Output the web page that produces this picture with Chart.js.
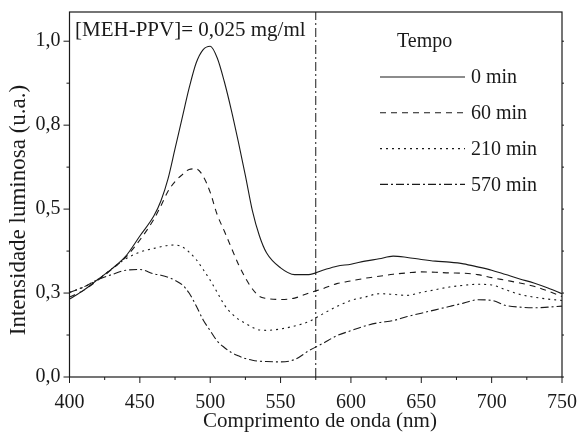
<!DOCTYPE html>
<html>
<head>
<meta charset="utf-8">
<script src="https://cdn.jsdelivr.net/npm/chart.js@4"></script>
<style>
  html, body { margin: 0; padding: 0; background: #fff; }
  #wrap { width: 580px; height: 434px; }
</style>
</head>
<body>
<div id="wrap"><canvas id="spectra"></canvas></div>
<script>
const wavelength = [400, 410, 420, 430, 440, 450, 460, 465, 470, 475, 480, 485, 490, 495, 500, 505, 510, 515, 520, 525, 530, 535, 540, 550, 560, 570, 580, 590, 600, 610, 620, 630, 640, 650, 660, 670, 680, 690, 700, 710, 720, 730, 740, 750];
const int0 = [0.232, 0.258, 0.29, 0.322, 0.36, 0.42, 0.48, 0.525, 0.59, 0.68, 0.77, 0.86, 0.935, 0.975, 0.985, 0.95, 0.88, 0.795, 0.70, 0.60, 0.495, 0.42, 0.37, 0.325, 0.305, 0.305, 0.318, 0.33, 0.336, 0.345, 0.352, 0.36, 0.356, 0.35, 0.345, 0.342, 0.337, 0.328, 0.318, 0.305, 0.292, 0.28, 0.265, 0.248];
const int60 = [0.238, 0.258, 0.288, 0.32, 0.357, 0.408, 0.47, 0.51, 0.553, 0.582, 0.602, 0.618, 0.62, 0.598, 0.55, 0.483, 0.435, 0.385, 0.336, 0.295, 0.262, 0.24, 0.234, 0.231, 0.235, 0.25, 0.263, 0.278, 0.286, 0.294, 0.30, 0.306, 0.31, 0.313, 0.312, 0.31, 0.309, 0.305, 0.296, 0.288, 0.28, 0.27, 0.256, 0.24];
const int210 = [0.252, 0.268, 0.29, 0.322, 0.352, 0.372, 0.383, 0.388, 0.392, 0.393, 0.388, 0.372, 0.35, 0.32, 0.288, 0.252, 0.215, 0.19, 0.172, 0.16, 0.148, 0.14, 0.139, 0.143, 0.152, 0.165, 0.188, 0.21, 0.228, 0.238, 0.248, 0.246, 0.243, 0.252, 0.26, 0.268, 0.273, 0.276, 0.274, 0.26, 0.246, 0.238, 0.232, 0.228];
const int570 = [0.252, 0.268, 0.29, 0.305, 0.318, 0.32, 0.307, 0.303, 0.297, 0.288, 0.275, 0.25, 0.212, 0.17, 0.138, 0.107, 0.088, 0.073, 0.063, 0.055, 0.05, 0.047, 0.046, 0.045, 0.052, 0.078, 0.1, 0.123, 0.138, 0.152, 0.162, 0.168, 0.18, 0.19, 0.2, 0.21, 0.22, 0.23, 0.228, 0.213, 0.208, 0.206, 0.208, 0.211];

const seriesNames = ["0 min", "60 min", "210 min", "570 min"];
const seriesDash = [[], [6, 5], [2, 4], [8, 3, 2, 3]];
const markerWavelength = 575;

const xTickValues = [400, 450, 500, 550, 600, 650, 700, 750];
const xTickLabels = ["400", "450", "500", "550", "600", "650", "700", "750"];
const yTickValues = [0, 0.25, 0.5, 0.75, 1.0];
const yTickLabels = ["0,0", "0,3", "0,5", "0,8", "1,0"];

const serif = "'Liberation Serif', 'Times New Roman', serif";
const ink = "#1a1a1a";

function toPoints(values) {
  return values.map((v, i) => ({ x: wavelength[i], y: v }));
}

const seriesData = [int0, int60, int210, int570];
const datasets = seriesData.map((vals, i) => ({
  label: seriesNames[i],
  data: toPoints(vals),
  borderColor: ink,
  borderWidth: 1.1,
  borderDash: seriesDash[i],
  pointRadius: 0,
  fill: false,
  cubicInterpolationMode: "monotone",
}));

// vertical dash-dot line at 575 nm
datasets.push({
  label: "marker",
  data: [{ x: markerWavelength, y: 0 }, { x: markerWavelength, y: 1.087 }],
  borderColor: ink,
  borderWidth: 1,
  borderDash: [9, 3, 2, 3],
  pointRadius: 0,
  fill: false,
});

function line(ctx, x1, y1, x2, y2) {
  ctx.beginPath();
  ctx.moveTo(x1, y1);
  ctx.lineTo(x2, y2);
  ctx.stroke();
}

const framePlugin = {
  id: "frame",
  afterDraw(chart) {
    const { ctx, chartArea: a } = chart;
    const xs = chart.scales.x;
    const ys = chart.scales.y;
    ctx.save();
    ctx.strokeStyle = ink;
    ctx.setLineDash([]);
    ctx.lineWidth = 1.2;
    ctx.strokeRect(a.left, a.top, a.right - a.left, a.bottom - a.top);

    ctx.lineWidth = 1;
    xs.ticks.forEach(t => {
      const px = xs.getPixelForValue(t.value);
      const len = xTickValues.includes(t.value) ? 6 : 3;
      line(ctx, px, a.bottom, px, a.bottom + len);
    });
    ys.ticks.forEach(t => {
      const py = ys.getPixelForValue(t.value);
      const len = yTickValues.includes(t.value) ? 6 : 3;
      line(ctx, a.left - len, py, a.left, py);
      line(ctx, a.right, py, a.right + 2, py);
    });

    ctx.fillStyle = ink;
    ctx.textBaseline = "middle";
    ctx.textAlign = "left";

    // concentration note
    ctx.font = "21px " + serif;
    ctx.fillText("[MEH-PPV]= 0,025 mg/ml", 75, 30);

    // legend
    ctx.font = "20px " + serif;
    ctx.fillText("Tempo", 397, 42);
    seriesNames.forEach((name, i) => {
      const yy = 77 + i * 35.8;
      ctx.setLineDash(seriesDash[i]);
      ctx.lineWidth = 1.1;
      line(ctx, 380, yy, 465, yy);
      ctx.setLineDash([]);
      ctx.fillText(name, 471, yy + 1);
    });

    // axis titles
    ctx.textAlign = "center";
    ctx.font = "21px " + serif;
    ctx.fillText("Comprimento de onda (nm)", 320, 421);
    ctx.font = "23px " + serif;
    ctx.translate(19, 210);
    ctx.rotate(-Math.PI / 2);
    ctx.fillText("Intensidade luminosa (u.a.)", 0, 0);
    ctx.restore();
  },
};

new Chart(document.getElementById("spectra"), {
  type: "line",
  data: { datasets: datasets },
  options: {
    responsive: true,
    maintainAspectRatio: false,
    animation: false,
    layout: { padding: { top: 12, right: 18, left: 0, bottom: 0 } },
    plugins: {
      legend: { display: false },
      tooltip: { enabled: false },
    },
    scales: {
      x: {
        type: "linear",
        min: 400,
        max: 750,
        afterBuildTicks: scale => {
          const t = [];
          for (let v = 400; v <= 750; v += 25) t.push({ value: v });
          scale.ticks = t;
        },
        afterFit: scale => {
          scale.height = 57;
          scale.paddingLeft = 0;
          scale.paddingRight = 0;
        },
        grid: { display: false, drawTicks: false },
        border: { display: false },
        ticks: {
          autoSkip: false,
          maxRotation: 0,
          padding: 14,
          color: ink,
          font: { family: serif, size: 20 },
          callback: value => {
            const i = xTickValues.indexOf(value);
            return i >= 0 ? xTickLabels[i] : "";
          },
        },
      },
      y: {
        min: 0,
        max: 1.087,
        afterBuildTicks: scale => {
          const t = [];
          for (let k = 0; k <= 8; k++) t.push({ value: k * 0.125 });
          scale.ticks = t;
        },
        afterFit: scale => {
          scale.width = 69.5;
          scale.paddingTop = 0;
          scale.paddingBottom = 0;
        },
        grid: { display: false, drawTicks: false },
        border: { display: false },
        ticks: {
          autoSkip: false,
          padding: 9,
          color: ink,
          font: { family: serif, size: 20 },
          callback: value => {
            const i = yTickValues.indexOf(value);
            return i >= 0 ? yTickLabels[i] : "";
          },
        },
      },
    },
  },
  plugins: [framePlugin],
});
</script>
</body>
</html>
